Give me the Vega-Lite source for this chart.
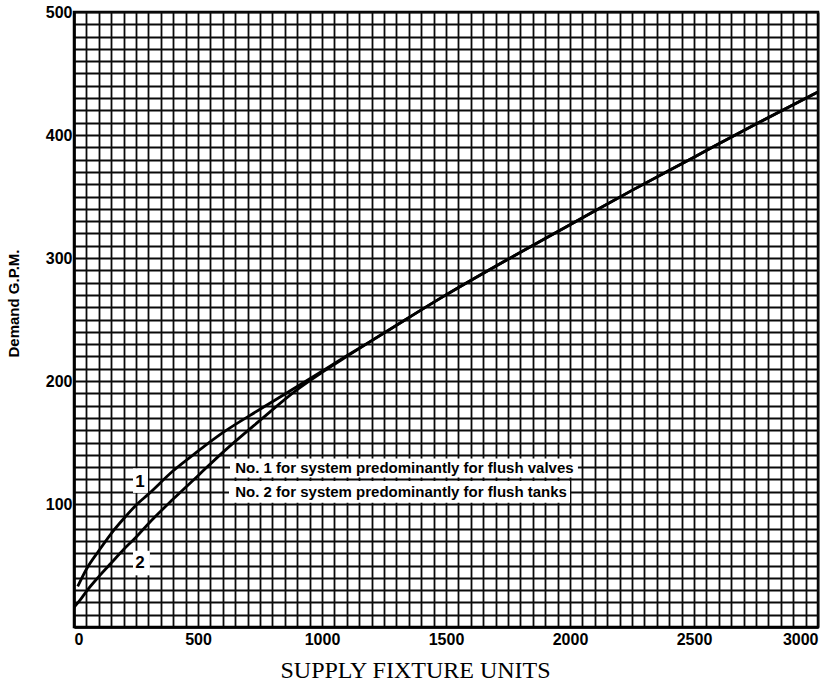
{
  "$schema": "https://vega.github.io/schema/vega-lite/v6.json",
  "width": 744,
  "height": 615,
  "autosize": {"type": "none"},
  "padding": {"left": 74, "top": 12, "right": 16, "bottom": 60},
  "background": "white",
  "config": {
    "view": {"stroke": "black", "strokeWidth": 2.5},
    "axis": {
      "grid": true,
      "gridColor": "#0a0a0a",
      "gridWidth": 1.8,
      "gridOpacity": 1,
      "ticks": false,
      "domainColor": "black",
      "domainWidth": 2.5,
      "labelFont": "Liberation Sans",
      "labelFontWeight": "bold",
      "labelFontSize": 16,
      "labelColor": "black",
      "labelOverlap": false,
      "labelBound": false,
      "titleColor": "black"
    }
  },
  "datasets": {
    "curves": [
      {"curve": "1", "x": 15, "y": 33},
      {"curve": "1", "x": 50, "y": 47},
      {"curve": "1", "x": 100, "y": 62},
      {"curve": "1", "x": 150, "y": 76},
      {"curve": "1", "x": 200, "y": 88},
      {"curve": "1", "x": 250, "y": 99},
      {"curve": "1", "x": 300, "y": 108},
      {"curve": "1", "x": 400, "y": 127},
      {"curve": "1", "x": 500, "y": 143},
      {"curve": "1", "x": 600, "y": 158},
      {"curve": "1", "x": 750, "y": 177},
      {"curve": "1", "x": 900, "y": 195.5},
      {"curve": "1", "x": 1000, "y": 208},
      {"curve": "1", "x": 1100, "y": 220.5},
      {"curve": "1", "x": 1250, "y": 239},
      {"curve": "1", "x": 1500, "y": 270},
      {"curve": "1", "x": 1750, "y": 299},
      {"curve": "1", "x": 2000, "y": 327},
      {"curve": "1", "x": 2250, "y": 355},
      {"curve": "1", "x": 2500, "y": 382},
      {"curve": "1", "x": 2750, "y": 409},
      {"curve": "1", "x": 3000, "y": 435},
      {"curve": "2", "x": 0, "y": 16},
      {"curve": "2", "x": 25, "y": 22},
      {"curve": "2", "x": 50, "y": 29},
      {"curve": "2", "x": 100, "y": 41},
      {"curve": "2", "x": 150, "y": 52},
      {"curve": "2", "x": 200, "y": 63},
      {"curve": "2", "x": 250, "y": 73},
      {"curve": "2", "x": 300, "y": 84},
      {"curve": "2", "x": 400, "y": 104},
      {"curve": "2", "x": 500, "y": 123},
      {"curve": "2", "x": 600, "y": 142},
      {"curve": "2", "x": 750, "y": 168},
      {"curve": "2", "x": 900, "y": 193},
      {"curve": "2", "x": 1000, "y": 207},
      {"curve": "2", "x": 1100, "y": 220},
      {"curve": "2", "x": 1250, "y": 239},
      {"curve": "2", "x": 1500, "y": 270},
      {"curve": "2", "x": 1750, "y": 299},
      {"curve": "2", "x": 2000, "y": 327},
      {"curve": "2", "x": 2250, "y": 355},
      {"curve": "2", "x": 2500, "y": 382},
      {"curve": "2", "x": 2750, "y": 409},
      {"curve": "2", "x": 3000, "y": 435}
    ],
    "boxes": [
      {"x": 629, "x2": 2032, "y": 121.5, "y2": 137},
      {"x": 625, "x2": 2000, "y": 101, "y2": 118.7},
      {"x": 238, "x2": 298, "y": 109, "y2": 129},
      {"x": 238, "x2": 306, "y": 42, "y2": 62}
    ],
    "notes": [
      {"kind": "legend", "label": "No. 1 for system predominantly for flush valves", "x": 650, "y": 129},
      {"kind": "legend", "label": "No. 2 for system predominantly for flush tanks", "x": 650, "y": 110},
      {"kind": "curve", "label": "1", "x": 266, "y": 118},
      {"kind": "curve", "label": "2", "x": 266, "y": 52}
    ]
  },
  "encoding": {
    "x": {
      "field": "x",
      "type": "quantitative",
      "scale": {"domain": [0, 3000], "nice": false, "zero": false},
      "axis": {
        "title": "SUPPLY FIXTURE UNITS",
        "format": "d",
        "values": [0,50,100,150,200,250,300,350,400,450,500,550,600,650,700,750,800,850,900,950,1000,1050,1100,1150,1200,1250,1300,1350,1400,1450,1500,1550,1600,1650,1700,1750,1800,1850,1900,1950,2000,2050,2100,2150,2200,2250,2300,2350,2400,2450,2500,2550,2600,2650,2700,2750,2800,2850,2900,2950,3000],
        "labelExpr": "datum.value % 500 === 0 ? datum.label : ''",
        "labelPadding": 4,
        "titleFont": "Liberation Serif",
        "titleFontSize": 24,
        "titleFontWeight": "normal",
        "titleX": 341,
        "titleY": 50,
        "titleAlign": "center",
        "titleBaseline": "alphabetic"
      }
    },
    "y": {
      "field": "y",
      "type": "quantitative",
      "scale": {"domain": [0, 500], "nice": false},
      "axis": {
        "title": "Demand G.P.M.",
        "format": "d",
        "values": [0,10,20,30,40,50,60,70,80,90,100,110,120,130,140,150,160,170,180,190,200,210,220,230,240,250,260,270,280,290,300,310,320,330,340,350,360,370,380,390,400,410,420,430,440,450,460,470,480,490,500],
        "labelExpr": "datum.value % 100 === 0 && datum.value > 0 ? datum.label : ''",
        "labelPadding": 2,
        "titleFont": "Liberation Sans",
        "titleFontSize": 15,
        "titleFontWeight": "bold",
        "titleAngle": 270,
        "titleX": -61,
        "titleY": 291,
        "titleAlign": "center",
        "titleBaseline": "middle"
      }
    }
  },
  "layer": [
    {
      "data": {"name": "boxes"},
      "mark": {"type": "rect", "fill": "white", "stroke": null},
      "encoding": {"x2": {"field": "x2"}, "y2": {"field": "y2"}}
    },
    {
      "data": {"name": "curves"},
      "mark": {"type": "line", "interpolate": "monotone", "color": "black", "strokeWidth": 2.8},
      "encoding": {"detail": {"field": "curve", "type": "nominal"}}
    },
    {
      "data": {"name": "notes"},
      "transform": [{"filter": "datum.kind === 'legend'"}],
      "mark": {"type": "text", "align": "left", "baseline": "middle", "font": "Liberation Sans", "fontWeight": "bold", "fontSize": 15, "color": "black"},
      "encoding": {"text": {"field": "label", "type": "nominal"}}
    },
    {
      "data": {"name": "notes"},
      "transform": [{"filter": "datum.kind === 'curve'"}],
      "mark": {"type": "text", "align": "center", "baseline": "middle", "font": "Liberation Sans", "fontWeight": "bold", "fontSize": 17, "color": "black"},
      "encoding": {"text": {"field": "label", "type": "nominal"}}
    }
  ]
}
